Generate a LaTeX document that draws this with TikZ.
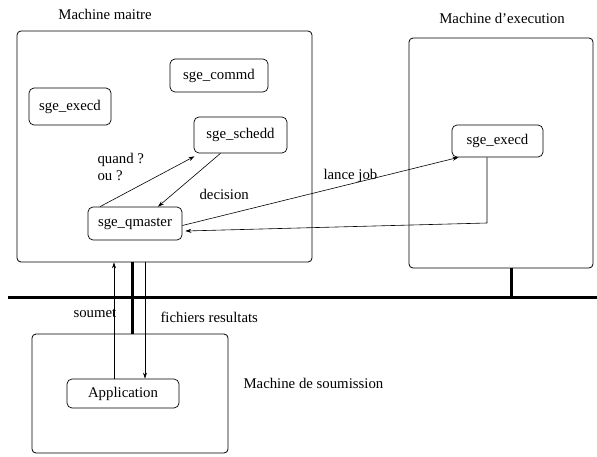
\documentclass[tikz,border=0pt]{standalone}
\usepackage{fontspec}
\setmainfont{Liberation Serif}
\usetikzlibrary{arrows.meta}
\begin{document}
\begin{tikzpicture}[x=1pt,y=-1pt,font=\fontsize{14.8}{16.5}\selectfont]
    \tikzstyle{machine}=[draw, rounded corners=4pt, line width=0.8pt, inner sep=0pt]
    \tikzstyle{proc}=[draw, rounded corners=5pt, line width=0.7pt, inner sep=0pt]
    \tikzstyle{msg}=[line width=0.6pt, -{Stealth[length=6pt,width=4pt]}]
    \tikzstyle{bus}=[line width=3pt]
    \useasboundingbox (0,0) rectangle (597,456);
    % machines
    \node[machine, minimum width=295pt, minimum height=231pt] (master) at (164.5,146.5) {};
    \node[machine, minimum width=184pt, minimum height=230pt] (exec) at (501,153) {};
    \node[machine, minimum width=196pt, minimum height=119pt] (sub) at (130,393.5) {};
    \node (lmaster) at (105,14) {Machine maitre};
    \node (lexec) at (502,18) {Machine d’execution};
    \node[anchor=west] (lsub) at (240,383) {Machine de soumission};
    % processus
    \node[proc, minimum width=82pt, minimum height=37pt] (execda) at (70,106.5) {sge\_execd};
    \node[proc, minimum width=98pt, minimum height=33pt] (commd) at (219,75.5) {sge\_commd};
    \node[proc, minimum width=93pt, minimum height=36pt] (schedd) at (240.5,135) {sge\_schedd};
    \node[proc, minimum width=94pt, minimum height=33pt] (qmaster) at (135,223.5) {sge\_qmaster};
    \node[proc, minimum width=91pt, minimum height=32pt] (execdb) at (497.5,141) {sge\_execd};
    \node[proc, minimum width=112pt, minimum height=29pt] (app) at (123,393.5) {Application};
    % reseau
    \coordinate (busl) at (8,297);
    \coordinate (busr) at (597,297);
    \draw[bus] (busl) -- (busr);
    \draw[bus] (exec.south -| 511,0) -- (busr -| 511,0);
    \draw[bus] (master.south -| 132,0) -- (sub.north -| 132,0);
    % messages
    \draw[msg] ([xshift=-35pt]qmaster.north) -- ([xshift=-46pt,yshift=-3pt]schedd.south);
    \draw[msg] ([xshift=-20pt]schedd.south) -- ([xshift=23pt]qmaster.north);
    \draw[msg] ([yshift=-2pt]qmaster.east) -- ([xshift=-39pt]execdb.south);
    \coordinate (ret) at (487,223);
    \draw[msg] (execdb.south -| ret) -- (ret) -- ([yshift=-7.5pt,xshift=3pt]qmaster.east);
    \draw[msg] (app.north -| 114,0) -- (master.south -| 114,0);
    \draw[msg] (master.south -| 145,0) -- (app.north -| 145,0);
    % textes
    \node[anchor=west, align=left] (lquand) at (94,167) {quand ?\\ou ?};
    \node[anchor=west] (ldecision) at (196,194) {decision};
    \node[anchor=west] (llance) at (320,176) {lance job};
    \node[anchor=west] (lsoumet) at (70,313) {soumet};
    \node[anchor=west] (lfichiers) at (157,317) {fichiers resultats};
\end{tikzpicture}
\end{document}
